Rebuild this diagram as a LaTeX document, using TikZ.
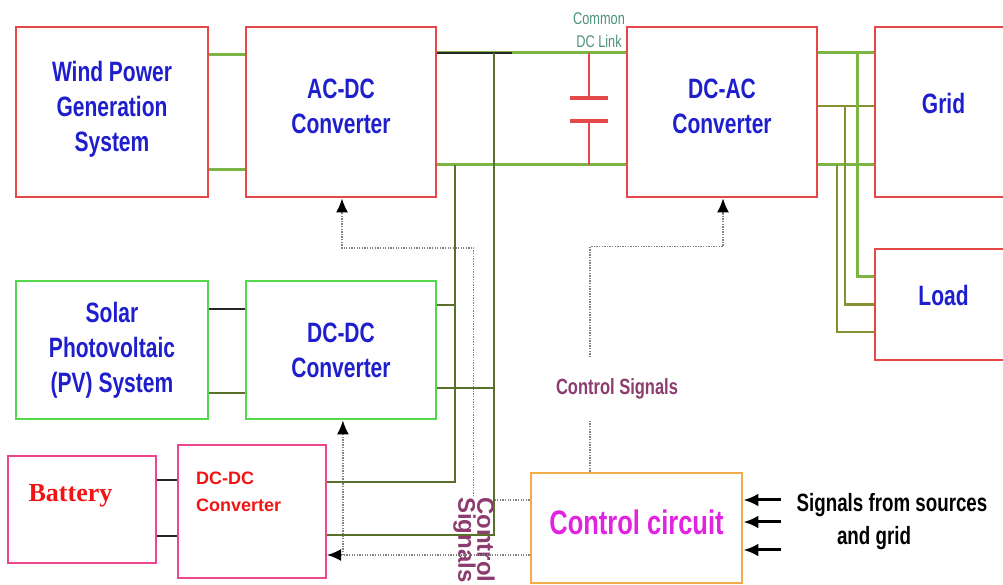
\documentclass[tikz,border=0pt]{standalone}
\usepackage{fontspec}
\setmainfont{Liberation Sans}
\newfontfamily\narrowsf[FakeStretch=0.75]{Liberation Sans}
\newfontfamily\timesbf{Liberation Serif}
\usetikzlibrary{arrows.meta}

\definecolor{boxred}{RGB}{228,72,72}
\definecolor{boxgreen}{RGB}{85,215,75}
\definecolor{boxpink}{RGB}{236,70,140}
\definecolor{boxorange}{RGB}{242,172,72}
\definecolor{txtblue}{RGB}{30,30,205}
\definecolor{busgreen}{RGB}{125,180,70}
\definecolor{olivedark}{RGB}{88,112,42}
\definecolor{olivelight}{RGB}{135,145,50}
\definecolor{ctlgray}{RGB}{130,130,130}
\definecolor{sigpurple}{RGB}{140,60,110}
\definecolor{ctlmagenta}{RGB}{225,35,225}
\definecolor{linkteal}{RGB}{75,145,125}
\definecolor{batred}{RGB}{240,20,20}

\begin{document}
\begin{tikzpicture}[x=1pt, y=1pt,
    % boxes
    block/.style={
        draw,
        line width=2.8pt,
        minimum width=190pt,
        minimum height=170pt,
        align=center,
        inner sep=0pt,
        text=txtblue,
        font=\narrowsf\bfseries\fontsize{28}{35}\selectfont
    },
    % power lines
    bus/.style={busgreen, line width=3pt},
    wire/.style={black!85, line width=2.5pt},
    olv/.style={olivedark, line width=2.2pt},
    olvl/.style={olivelight, line width=2.6pt},
    capline/.style={boxred, line width=2.2pt},
    % control signal lines
    ctl/.style={ctlgray, line width=1.6pt, dash pattern=on 1.3pt off 1.3pt,
        -{Latex[black, length=14pt, width=12pt]}},
    sigarrow/.style={{Latex[length=15pt, width=13pt]}-, line width=3pt},
    label_text/.style={
        font=\narrowsf\bfseries\fontsize{22}{26}\selectfont,
        text=sigpurple
    }
]
    \useasboundingbox (0,0) rectangle (1003,585);
    \clip (0,0) rectangle (1003,585);

    % ================== top row ==================
    \node[block, draw=boxred, minimum width=192pt, text depth=12pt] (wind) at (112,473) {Wind Power\\Generation\\System};
    \node[block, draw=boxred, text depth=12pt] (acdc) at (341,473) {AC-DC\\Converter};
    \node[block, draw=boxred, text depth=12pt] (dcac) at (722,473) {DC-AC\\Converter};
    \node[block, draw=boxred, minimum width=137pt, text depth=18pt] (grid) at (943.5,473) {Grid};
    \node[block, draw=boxred, minimum width=137pt, minimum height=111pt, text depth=19pt] (load) at (943.5,280.5) {Load};

    % ================== PV and battery ==================
    \node[block, draw=boxgreen, minimum width=192pt, minimum height=138pt] (pv) at (112,235) {Solar\\Photovoltaic\\(PV) System};
    \node[block, draw=boxgreen, minimum height=138pt] (pvconv) at (341,235) {DC-DC\\Converter};
    \node[block, draw=boxpink, line width=2.2pt, minimum width=148pt, minimum height=107pt] (bat) at (82,75.5) {};
    \node[block, draw=boxpink, line width=2.2pt, minimum width=148pt, minimum height=133pt] (batconv) at (252,73.5) {};
    \node[font=\timesbf\bfseries\fontsize{26}{30}\selectfont, text=batred, anchor=base] (battxt)
        at ([xshift=-11.5, yshift=7.5]bat.center) {Battery};
    \node[font=\bfseries\fontsize{18}{27}\selectfont, text=batred, align=left, anchor=north west, inner sep=0pt] (convtxt)
        at ([xshift=19, yshift=-28]batconv.north west) {DC-DC\\Converter};

    % ================== control ==================
    \node[block, draw=boxorange, minimum width=211pt, minimum height=110pt, text=ctlmagenta, text depth=12pt,
        font=\narrowsf\bfseries\fontsize{34}{40}\selectfont] (ctrl) at (636.5,57) {Control circuit};

    % control signals (dotted)
    \draw[ctl] ([xshift=-46.5]ctrl.north) -- ++(0,225) -| ([xshift=1]dcac.south);
    \draw[ctl] ([yshift=28]ctrl.west) -- ++(-56,0) -- ++(0,252) -| ([xshift=1]acdc.south);
    \node[label_text, fill=white, minimum height=62pt, inner xsep=1pt] (csig) at (617,196) {Control Signals};
    \node[label_text, font=\bfseries\fontsize{24}{19}\selectfont, fill=white, rotate=-90, align=left,
        anchor=north west, inner sep=0pt] (csigrot) at (495,88) {Control\\Signals};
    \draw[ctl] ([yshift=-27]ctrl.west) -- coordinate[pos=0.922] (cjoin) ([yshift=-43.5]batconv.east);
    \draw[ctl] (cjoin) -- (cjoin |- pvconv.south);

    % inputs of control circuit
    \draw[sigarrow] ([yshift=28]ctrl.east) -- ++(38,0);
    \draw[sigarrow] ([yshift=6]ctrl.east) -- ++(38,0);
    \draw[sigarrow] ([yshift=-22]ctrl.east) -- ++(38,0);
    \node[font=\narrowsf\bfseries\fontsize{25}{33}\selectfont, align=center] (sigtxt) at (892,63)
        {Signals from sources\\and grid\hspace*{36pt}};

    % ================== power connections ==================
    \draw[bus] ([yshift=57]wind.east) -- ([yshift=57]acdc.west);
    \draw[bus] ([yshift=-58]wind.east) -- ([yshift=-58]acdc.west);

    % common DC link
    \draw[bus] ([yshift=59]acdc.east) -- coordinate[pos=0.30] (tapT) coordinate[pos=0.805] (capT) ([yshift=59]dcac.west);
    \draw[wire] ([yshift=59]acdc.east) -- ++(75,0);
    \draw[bus] ([yshift=-53]acdc.east) -- coordinate[pos=0.094] (tapB) coordinate[pos=0.805] (capB) ([yshift=-53]dcac.west);
    \draw[capline] (capT) -- ++(0,-45);
    \draw[capline, line width=3.2pt] (capT) ++(-19,-45) -- ++(38,0);
    \draw[capline] (capB) -- ++(0,44);
    \draw[capline, line width=3.2pt] (capB) ++(-19,44) -- ++(38,0);
    \node[font=\narrowsf\fontsize{17}{23}\selectfont, text=linkteal, align=center, inner sep=0pt] (linktxt)
        at (599,555) {Common\\DC Link};

    % DC-AC to grid and load
    \draw[bus] ([yshift=59]dcac.east) -- coordinate[pos=0.70] (g1) ([yshift=59]grid.west);
    \draw[olvl] ([yshift=6]dcac.east) -- coordinate[pos=0.48] (g2) ([yshift=6]grid.west);
    \draw[bus] ([yshift=-53]dcac.east) -- coordinate[pos=0.34] (g3) ([yshift=-53]grid.west);
    \draw[bus] (g1) |- ([yshift=27.5]load.west);
    \draw[olvl] (g2) |- (load.west);
    \draw[olvl] (g3) |- ([yshift=-27.5]load.west);

    % PV side
    \draw[wire] ([yshift=41]pv.east) -- ([yshift=41]pvconv.west);
    \draw[olv, line width=2.8pt] ([yshift=-43]pv.east) -- ([yshift=-43]pvconv.west);
    \draw[olv] ([yshift=45]pvconv.east) -| (tapB);
    \draw[olv] ([yshift=-38]pvconv.east) -| (tapT);

    % battery side
    \draw[wire] ([yshift=29.5]bat.east) -- ([yshift=31.5]batconv.west);
    \draw[wire] ([yshift=-26.5]bat.east) -- ([yshift=-24.5]batconv.west);
    \draw[olv] (tapB) |- ([yshift=29.5]batconv.east);
    \draw[olv] (tapT) |- ([yshift=-23.5]batconv.east);

\end{tikzpicture}
\end{document}
